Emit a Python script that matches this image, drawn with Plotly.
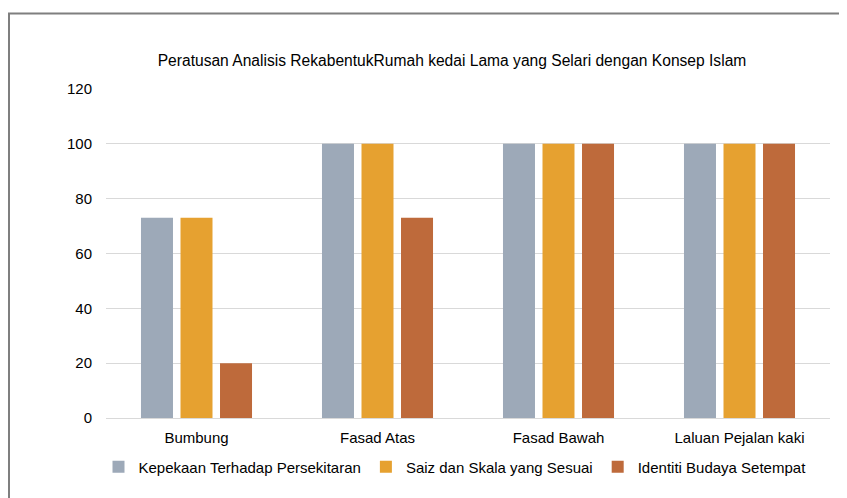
import plotly.graph_objects as go

categories = ["Bumbung", "Fasad Atas", "Fasad Bawah", "Laluan Pejalan kaki"]
series_names = ["Kepekaan Terhadap Persekitaran", "Saiz dan Skala yang Sesuai", "Identiti Budaya Setempat"]
kepekaan = [73, 100, 100, 100]
saiz = [73, 100, 100, 100]
identiti = [20, 73, 100, 100]
colors = ["#9DA9B8", "#E6A130", "#BE6A3B"]
y_ticks = [0, 20, 40, 60, 80, 100, 120]

fig = go.Figure()
for name, vals, c in zip(series_names, [kepekaan, saiz, identiti], colors):
    fig.add_trace(go.Bar(x=categories, y=vals, name=name, marker=dict(color=c, line=dict(width=0))))

OFF = 8  # page body margin
W, H = 847 - OFF, 498 - OFF
# target screen positions of plot area
SL, SR, ST, SB = 106, 830, 89, 418
L, T = SL - OFF, ST - OFF
R = W - (SR - OFF)
B = H - (SB - OFF)
pw, ph = W - L - R, H - T - B

def px_x(x):
    return (x - OFF - L) / pw

def px_y(y):
    return (H - B - (y - OFF)) / ph

font_main = "Liberation Sans, Arial, sans-serif"

fig.update_layout(
    width=W, height=H,
    margin=dict(l=L, r=R, t=T, b=B),
    paper_bgcolor="white", plot_bgcolor="white",
    barmode="group", bargap=0.345, bargroupgap=0.19,
    title=dict(text="Peratusan Analisis RekabentukRumah kedai Lama yang Selari dengan Konsep Islam",
               x=px_x(452), xref="paper", xanchor="center",
               y=1 - (61 - OFF) / H, yref="container", yanchor="middle",
               font=dict(family=font_main, size=15.6, color="#000000")),
    xaxis=dict(showgrid=False, showline=True, linecolor="#D9D9D9", linewidth=1,
               tickfont=dict(family=font_main, size=15, color="#000000"), ticks="",
               ticklabelstandoff=6),
    yaxis=dict(range=[0, 120], tickvals=y_ticks, showgrid=True, gridcolor="#D9D9D9", gridwidth=1,
               zeroline=False, ticks="", ticklabelstandoff=13,
               tickfont=dict(family=font_main, size=15, color="#000000")),
    legend=dict(orientation="h", x=px_x(455), xanchor="center", y=px_y(467), yanchor="middle",
                font=dict(family=font_main, size=15, color="#000000"), itemwidth=30,
                tracegroupgap=0),
    showlegend=True,
)

# outer frame: only left and top edges fall inside the view
fig.add_shape(type="line", xref="paper", yref="paper",
              x0=px_x(9), x1=px_x(9), y0=px_y(700), y1=px_y(13.5),
              line=dict(color="#7F7F7F", width=2), layer="below")
fig.add_shape(type="line", xref="paper", yref="paper",
              x0=px_x(8), x1=px_x(1200), y0=px_y(13.5), y1=px_y(13.5),
              line=dict(color="#7F7F7F", width=2), layer="below")

fig.write_html("out.html")
